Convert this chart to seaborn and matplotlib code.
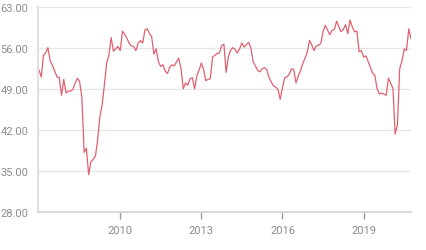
import matplotlib
matplotlib.use('Agg')
import matplotlib.pyplot as plt
import seaborn as sns
import pandas as pd

# Monthly index values (first point Jan 2007 on the chart's time axis)
start_month = '2007-01-01'
end_month = '2020-10-01'
values = [
    52.2, 51.0, 54.7, 55.1, 56.0, 53.7, 53.0, 52.0, 51.0, 50.9,
    47.9, 50.6, 48.3, 48.6, 48.6, 48.9, 49.9, 50.8, 50.3, 47.6,
    38.2, 38.9, 34.4, 36.6, 37.0, 37.6, 40.2, 44.2, 46.2, 49.6,
    53.3, 54.7, 57.7, 55.4, 55.8, 56.2, 55.5, 58.8, 58.3, 57.6,
    56.8, 56.3, 56.2, 55.5, 56.8, 57.2, 56.8, 59.0, 59.2, 58.4,
    57.9, 54.9, 55.8, 53.6, 52.8, 53.1, 52.0, 51.6, 52.7, 53.1,
    52.9, 53.6, 54.2, 52.4, 49.0, 50.0, 49.6, 50.7, 50.9, 49.0,
    51.2, 52.2, 53.4, 52.2, 50.4, 50.6, 50.7, 54.4, 54.7, 55.0,
    55.1, 56.3, 56.6, 51.8, 54.5, 55.6, 56.0, 55.7, 55.1, 55.8,
    56.8, 56.1, 56.5, 56.9, 55.9, 53.6, 52.9, 52.1, 51.9, 52.4,
    52.6, 52.3, 51.0, 50.2, 49.5, 49.3, 48.9, 47.2, 49.2, 50.9,
    51.0, 51.5, 52.4, 52.3, 50.0, 51.2, 52.1, 53.3, 54.2, 55.3,
    57.25, 56.4, 55.5, 56.3, 56.4, 56.7, 58.7, 59.8, 58.95, 58.2,
    58.95, 59.1, 60.5, 59.5, 58.7, 59.1, 59.9, 58.4, 60.7, 59.5,
    58.7, 58.8, 55.3, 55.5, 54.4, 54.6, 53.7, 52.7, 51.7, 51.3,
    49.0, 48.1, 48.3, 48.1, 47.9, 50.8, 50.0, 49.0, 41.3, 42.9,
    52.4, 53.7, 55.8, 55.5, 59.2, 57.5,
]
y_ticks = [28, 35, 42, 49, 56, 63]
x_tick_years = ['2010', '2013', '2016', '2019']

dates = pd.date_range(start_month, end_month, freq='MS')
df = pd.DataFrame({'date': dates, 'value': values})

sns.set_theme(style='white')
plt.rcParams['font.family'] = ['Roboto', 'DejaVu Sans']

W, H = 426, 251
fig = plt.figure(figsize=(W / 100, H / 100), dpi=100)
left_px, right_px, top_px, bottom_px = 38, 411, 7.5, 213.3
ax = fig.add_axes([left_px / W, 1 - bottom_px / H,
                   (right_px - left_px) / W, (bottom_px - top_px) / H])

sns.lineplot(data=df, x='date', y='value', ax=ax, color='#e0606e', linewidth=0.9)

ax.set_ylim(28, 63)
ax.set_yticks(y_ticks)
ax.set_yticklabels([f'{v:.2f}' for v in y_ticks])
ax.set_xlim(pd.Timestamp('2006-12-18'), pd.Timestamp(end_month))
ax.set_xticks([pd.Timestamp(f'{y}-01-01') for y in x_tick_years])
ax.set_xticklabels(x_tick_years)
ax.grid(axis='y', color='#e6e6e6', linewidth=1)
ax.grid(axis='x', visible=False)
ax.set_axisbelow(True)
for s in ['top', 'right']:
    ax.spines[s].set_visible(False)
ax.spines['left'].set_color('#e0e0e0')
ax.spines['left'].set_linewidth(1.5)
ax.spines['bottom'].set_color('#d9d9d9')
ax.spines['bottom'].set_linewidth(1.5)
ax.tick_params(axis='y', length=0, pad=7, labelsize=8, labelcolor='#8c8c8c')
ax.tick_params(axis='x', length=5, width=1, color='#999999', pad=4,
               labelsize=8, labelcolor='#8c8c8c', bottom=True)
ax.set_xlabel('')
ax.set_ylabel('')

fig.savefig('out.png', dpi=100)
